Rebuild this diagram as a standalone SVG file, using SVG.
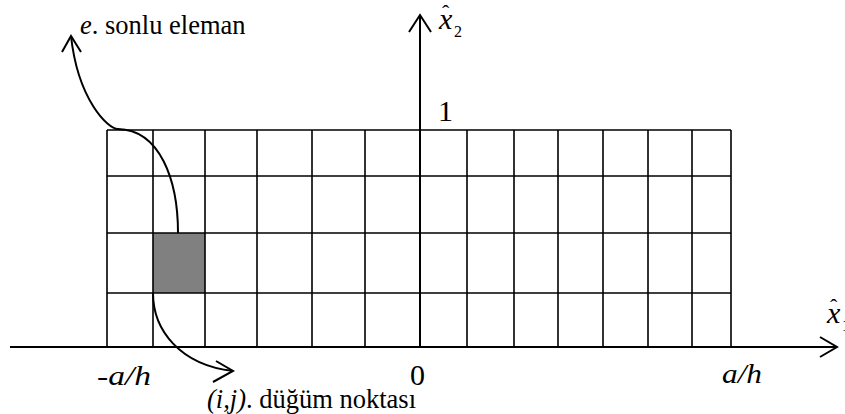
<svg xmlns="http://www.w3.org/2000/svg" width="845" height="414" viewBox="0 0 845 414">
<style>
.grid{stroke:#000;stroke-width:1.6;fill:none}
.axis{stroke:#000;stroke-width:2;fill:none}
.curve{stroke:#000;stroke-width:2;fill:none}
text{font-family:'Liberation Serif','Times New Roman','DejaVu Serif',serif;fill:#000}
.i{font-style:italic}
</style>
<rect width="845" height="414" fill="#fff"/>
<g id="shaded-element">
<rect x="153" y="233" width="52" height="60" fill="#808080"/>
</g>
<g id="grid" class="grid">
<path d="M107,130H731M107,176H731M107,233H731M107,293H731"/>
<path d="M107,130V347M153,130V347M205,130V347M257,130V347M312,130V347M365,130V347M467,130V347M514,130V347M558,130V347M603,130V347M648,130V347M692,130V347M731,130V347"/>
</g>
<g id="connectors">
<path class="axis" d="M10,347H837"/>
<path class="axis" d="M820,337L837,347L820,357"/>
<path class="axis" d="M420,347V15"/>
<path class="axis" d="M409,32L420,15L431,32"/>
<path class="curve" d="M178,233C178,180 160,130 118,129C108,129 78,100 71,36"/>
<path class="curve" d="M62,52L71,36L81,52"/>
<path class="curve" d="M153,293C153,330 180,365 233,371"/>
<path class="curve" d="M216,361L233,371L213,382"/>
</g>
<g id="label-x2">
<text x="439" y="29" font-size="30"><tspan class="i">x</tspan><tspan dx="-10.3" dy="-9" font-size="22">ˆ</tspan><tspan dx="4.7" dy="17" font-size="16">2</tspan></text>
</g>
<g id="label-x1">
<text x="827" y="323" font-size="30"><tspan class="i">x</tspan><tspan dx="-10.3" dy="-9" font-size="22">ˆ</tspan><tspan dx="4.7" dy="17" font-size="16">1</tspan></text>
</g>
<g id="label-1"><text x="438" y="121" font-size="30">1</text></g>
<g id="label-0"><text x="410" y="385" font-size="30">0</text></g>
<g id="label-neg-ah"><text class="i" x="97" y="385" font-size="28" textLength="54" lengthAdjust="spacingAndGlyphs">-a/h</text></g>
<g id="label-ah"><text class="i" x="722" y="383" font-size="28" textLength="40" lengthAdjust="spacingAndGlyphs">a/h</text></g>
<g id="label-element"><text x="80" y="34" font-size="26.5"><tspan class="i">e</tspan>. sonlu eleman</text></g>
<g id="label-node"><text x="207" y="408" font-size="26.5"><tspan class="i">(i,j)</tspan>. düğüm noktası</text></g>
</svg>
